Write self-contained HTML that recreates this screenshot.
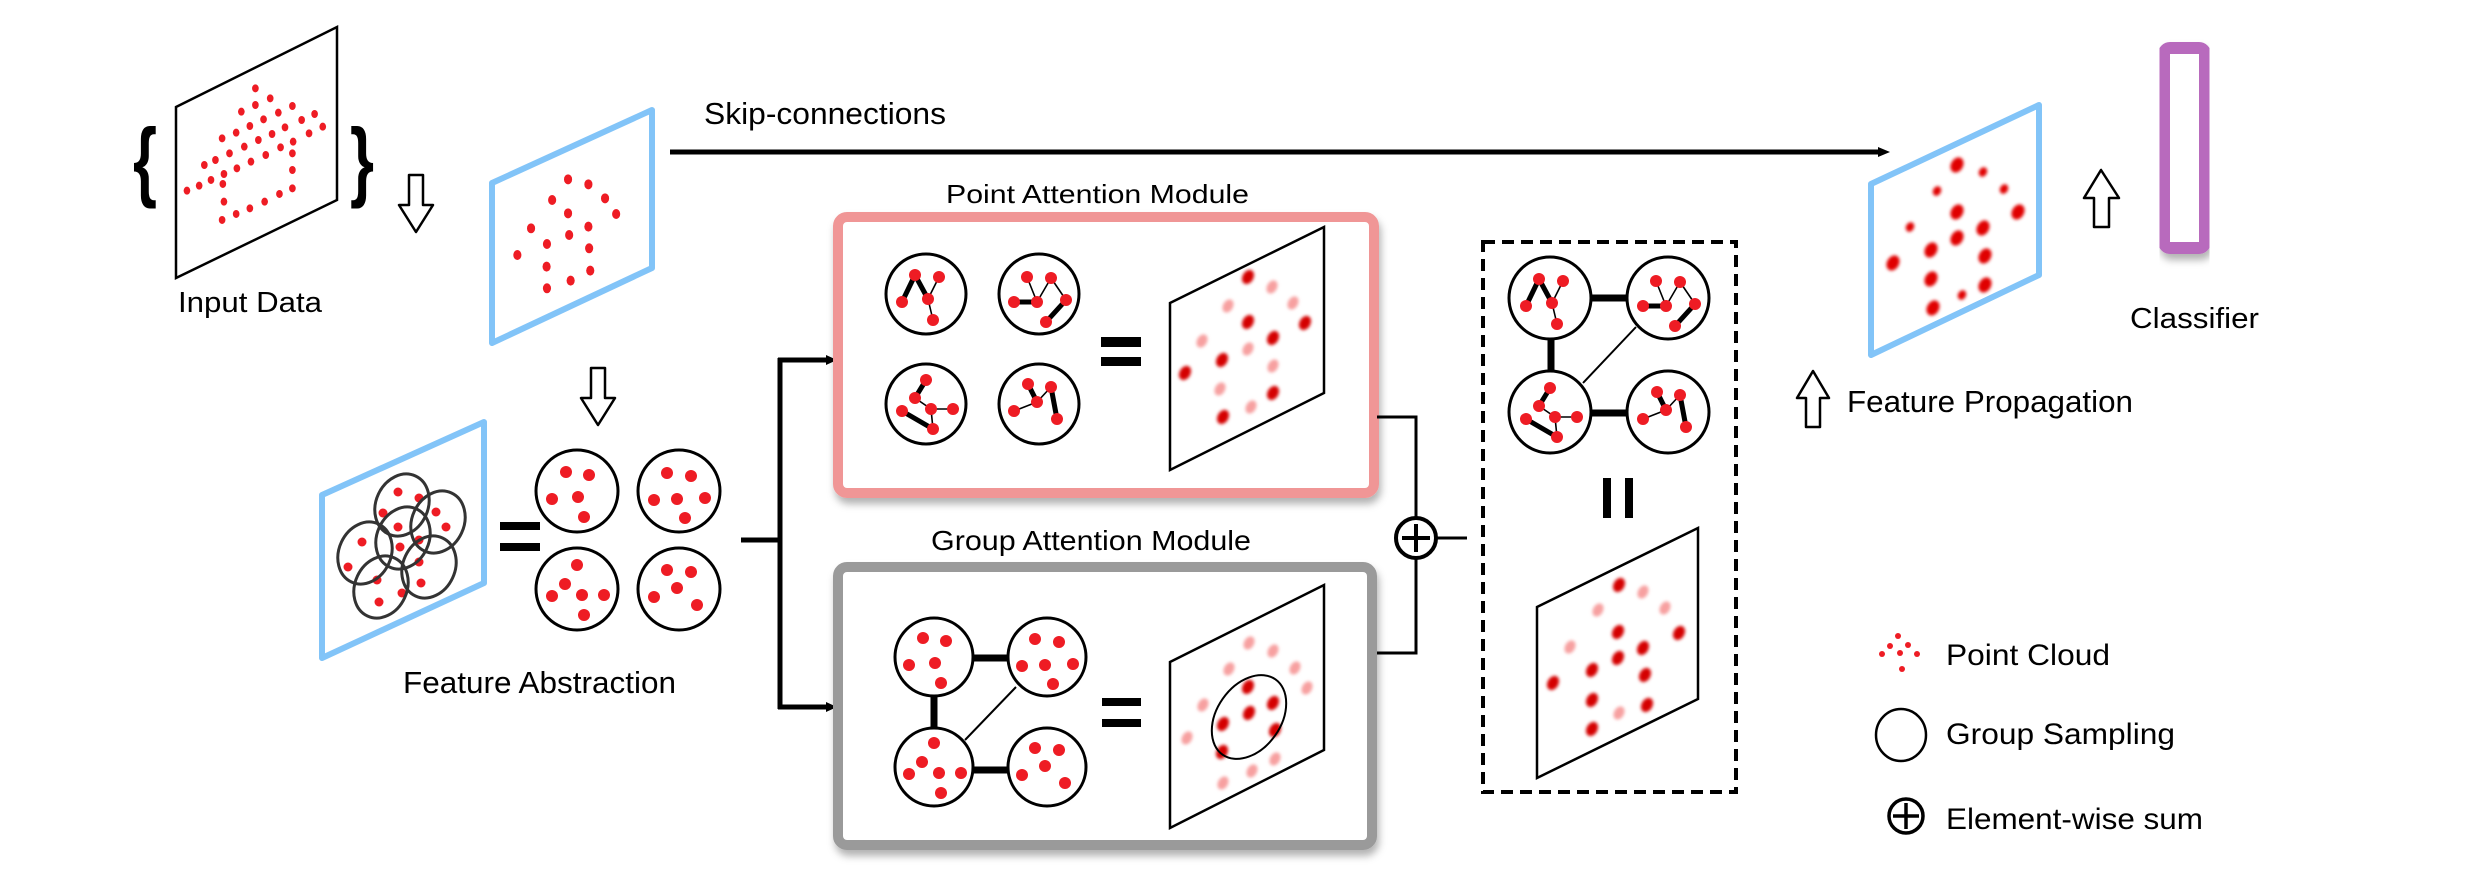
<!DOCTYPE html>
<html><head><meta charset="utf-8"><style>
html,body{margin:0;padding:0;background:#fff;}
svg{display:block;}
text{font-family:"Liberation Sans",Arial,sans-serif;fill:#000;}
</style></head><body>
<svg width="2480" height="880" viewBox="0 0 2480 880" xmlns="http://www.w3.org/2000/svg">
<defs>
<filter id="bl" x="-50%" y="-50%" width="200%" height="200%"><feGaussianBlur stdDeviation="1.6"/></filter>
<filter id="sh" x="-10%" y="-10%" width="120%" height="130%"><feDropShadow dx="2" dy="6" stdDeviation="4" flood-color="#000" flood-opacity="0.3"/></filter>
<g id="P1"><g stroke="#000"><line x1="-11" y1="-19" x2="-24" y2="8" stroke-width="5"/><line x1="-11" y1="-19" x2="2" y2="5" stroke-width="5"/><line x1="13" y1="-17" x2="2" y2="5" stroke-width="1.6"/><line x1="2" y1="5" x2="7" y2="26" stroke-width="1.6"/></g>
<g fill="#ee1c24"><circle cx="-11" cy="-19" r="6"/><circle cx="13" cy="-17" r="6"/><circle cx="-24" cy="8" r="6"/><circle cx="2" cy="5" r="6"/><circle cx="7" cy="26" r="6"/></g></g>
<g id="P2"><g stroke="#000"><line x1="-12" y1="-17" x2="-2" y2="8" stroke-width="1.6"/><line x1="-2" y1="8" x2="12" y2="-16" stroke-width="1.6"/><line x1="12" y1="-16" x2="27" y2="6" stroke-width="1.6"/><line x1="-25" y1="8" x2="-2" y2="8" stroke-width="5"/><line x1="27" y1="6" x2="7" y2="28" stroke-width="5"/></g>
<g fill="#ee1c24"><circle cx="-12" cy="-17" r="6"/><circle cx="12" cy="-16" r="6"/><circle cx="-25" cy="8" r="6"/><circle cx="-2" cy="8" r="6"/><circle cx="27" cy="6" r="6"/><circle cx="7" cy="28" r="6"/></g></g>
<g id="P3"><g stroke="#000"><line x1="0" y1="-24" x2="-11" y2="-6" stroke-width="5"/><line x1="-11" y1="-6" x2="5" y2="5" stroke-width="1.6"/><line x1="5" y1="5" x2="27" y2="5" stroke-width="1.6"/><line x1="5" y1="5" x2="7" y2="25" stroke-width="1.6"/><line x1="-24" y1="7" x2="7" y2="25" stroke-width="5"/></g>
<g fill="#ee1c24"><circle cx="0" cy="-24" r="6"/><circle cx="-11" cy="-6" r="6"/><circle cx="5" cy="5" r="6"/><circle cx="-24" cy="7" r="6"/><circle cx="27" cy="5" r="6"/><circle cx="7" cy="25" r="6"/></g></g>
<g id="P4"><g stroke="#000"><line x1="-11" y1="-20" x2="-2" y2="-2" stroke-width="5"/><line x1="-2" y1="-2" x2="12" y2="-17" stroke-width="1.6"/><line x1="12" y1="-17" x2="18" y2="15" stroke-width="5"/><line x1="-25" y1="7" x2="-2" y2="-2" stroke-width="1.6"/></g>
<g fill="#ee1c24"><circle cx="-11" cy="-20" r="6"/><circle cx="12" cy="-17" r="6"/><circle cx="-2" cy="-2" r="6"/><circle cx="-25" cy="7" r="6"/><circle cx="18" cy="15" r="6"/></g></g>
<g id="G1" fill="#ee1c24"><circle cx="-11" cy="-19" r="6"/><circle cx="12" cy="-16" r="6"/><circle cx="-25" cy="8" r="6"/><circle cx="1" cy="6" r="6"/><circle cx="7" cy="26" r="6"/></g>
<g id="G2" fill="#ee1c24"><circle cx="-12" cy="-18" r="6"/><circle cx="12" cy="-15" r="6"/><circle cx="-25" cy="9" r="6"/><circle cx="-2" cy="8" r="6"/><circle cx="26" cy="7" r="6"/><circle cx="6" cy="27" r="6"/></g>
<g id="G3" fill="#ee1c24"><circle cx="0" cy="-24" r="6"/><circle cx="-12" cy="-5" r="6"/><circle cx="5" cy="6" r="6"/><circle cx="-25" cy="7" r="6"/><circle cx="27" cy="6" r="6"/><circle cx="7" cy="26" r="6"/></g>
<g id="G4" fill="#ee1c24"><circle cx="-12" cy="-19" r="6"/><circle cx="12" cy="-17" r="6"/><circle cx="-2" cy="-1" r="6"/><circle cx="-25" cy="8" r="6"/><circle cx="18" cy="16" r="6"/></g>
<ellipse id="dk" rx="5.5" ry="7.5" transform="rotate(30)" fill="#d40000"/>
<ellipse id="pl" rx="5" ry="7" transform="rotate(30)" fill="#f7a0a0"/>
</defs>

<!-- Input data -->
<path d="M176,107 L337,27 L337,200 L176,278 Z" fill="#fff" stroke="#000" stroke-width="2.5"/>
<text x="133" y="190" font-size="88" font-weight="bold" textLength="24" lengthAdjust="spacingAndGlyphs">{</text>
<text x="350" y="190" font-size="88" font-weight="bold" textLength="24" lengthAdjust="spacingAndGlyphs">}</text>
<g transform="translate(100,20) scale(0.37,0.3333)" fill="#ee1c24">
<ellipse cx="420" cy="205" rx="9" ry="12"/><ellipse cx="460" cy="235" rx="9" ry="12"/><ellipse cx="382" cy="275" rx="9" ry="12"/><ellipse cx="420" cy="255" rx="9" ry="12"/><ellipse cx="482" cy="278" rx="9" ry="12"/><ellipse cx="520" cy="258" rx="9" ry="12"/><ellipse cx="580" cy="282" rx="9" ry="12"/><ellipse cx="442" cy="298" rx="9" ry="12"/><ellipse cx="405" cy="318" rx="9" ry="12"/><ellipse cx="368" cy="338" rx="9" ry="12"/><ellipse cx="330" cy="355" rx="9" ry="12"/><ellipse cx="545" cy="300" rx="9" ry="12"/><ellipse cx="500" cy="322" rx="9" ry="12"/><ellipse cx="465" cy="342" rx="9" ry="12"/><ellipse cx="428" cy="360" rx="9" ry="12"/><ellipse cx="390" cy="380" rx="9" ry="12"/><ellipse cx="350" cy="400" rx="9" ry="12"/><ellipse cx="312" cy="420" rx="9" ry="12"/><ellipse cx="282" cy="435" rx="9" ry="12"/><ellipse cx="565" cy="340" rx="9" ry="12"/><ellipse cx="602" cy="320" rx="9" ry="12"/><ellipse cx="522" cy="365" rx="9" ry="12"/><ellipse cx="488" cy="382" rx="9" ry="12"/><ellipse cx="448" cy="405" rx="9" ry="12"/><ellipse cx="408" cy="425" rx="9" ry="12"/><ellipse cx="370" cy="445" rx="9" ry="12"/><ellipse cx="335" cy="462" rx="9" ry="12"/><ellipse cx="300" cy="480" rx="9" ry="12"/><ellipse cx="268" cy="497" rx="9" ry="12"/><ellipse cx="235" cy="512" rx="9" ry="12"/><ellipse cx="520" cy="400" rx="9" ry="12"/><ellipse cx="520" cy="450" rx="9" ry="12"/><ellipse cx="332" cy="492" rx="9" ry="12"/><ellipse cx="520" cy="505" rx="9" ry="12"/><ellipse cx="485" cy="522" rx="9" ry="12"/><ellipse cx="445" cy="545" rx="9" ry="12"/><ellipse cx="405" cy="565" rx="9" ry="12"/><ellipse cx="368" cy="582" rx="9" ry="12"/><ellipse cx="330" cy="600" rx="9" ry="12"/><ellipse cx="335" cy="545" rx="9" ry="12"/>
</g>
<text x="178" y="312" font-size="29" textLength="144" lengthAdjust="spacingAndGlyphs">Input Data</text>
<path d="M409,175 H423 V205 H433 L416,232 L399,205 H409 Z" fill="#fff" stroke="#000" stroke-width="2.5" stroke-linejoin="round"/>

<!-- Blue plane 1 -->
<path d="M492,183 L652,110 L652,268 L492,343 Z" fill="#fff" stroke="#82c4f8" stroke-width="6" stroke-linejoin="round"/>
<g transform="translate(100,20) scale(0.37,0.3333)" fill="#ee1c24">
<ellipse cx="1265" cy="478" rx="11" ry="15"/><ellipse cx="1320" cy="493" rx="11" ry="15"/><ellipse cx="1222" cy="540" rx="11" ry="15"/><ellipse cx="1365" cy="535" rx="11" ry="15"/><ellipse cx="1265" cy="580" rx="11" ry="15"/><ellipse cx="1395" cy="582" rx="11" ry="15"/><ellipse cx="1165" cy="625" rx="11" ry="15"/><ellipse cx="1268" cy="645" rx="11" ry="15"/><ellipse cx="1320" cy="620" rx="11" ry="15"/><ellipse cx="1208" cy="672" rx="11" ry="15"/><ellipse cx="1322" cy="685" rx="11" ry="15"/><ellipse cx="1128" cy="705" rx="11" ry="15"/><ellipse cx="1207" cy="740" rx="11" ry="15"/><ellipse cx="1325" cy="752" rx="11" ry="15"/><ellipse cx="1272" cy="782" rx="11" ry="15"/><ellipse cx="1208" cy="805" rx="11" ry="15"/>
</g>

<!-- Skip connection -->
<text x="704" y="124" font-size="31" textLength="242" lengthAdjust="spacingAndGlyphs">Skip-connections</text>
<line x1="670" y1="152" x2="1880" y2="152" stroke="#000" stroke-width="5"/>
<path d="M1878,147 L1890,152 L1878,157 Z" fill="#000"/>

<!-- Down arrow 2 -->
<path d="M591,368 H605 V398 H615 L598,425 L581,398 H591 Z" fill="#fff" stroke="#000" stroke-width="2.5" stroke-linejoin="round"/>

<!-- Feature abstraction plane -->
<path d="M322,495 L484,422 L484,583 L322,658 Z" fill="#fff" stroke="#82c4f8" stroke-width="6" stroke-linejoin="round"/>
<g fill="#ee1c24">
<circle cx="398" cy="492" r="4.5"/><circle cx="419" cy="498" r="4.5"/><circle cx="383" cy="513" r="4.5"/><circle cx="436" cy="512" r="4.5"/><circle cx="398" cy="527" r="4.5"/><circle cx="446" cy="527" r="4.5"/><circle cx="362" cy="542" r="4.5"/><circle cx="400" cy="547" r="4.5"/><circle cx="419" cy="540" r="4.5"/><circle cx="419" cy="562" r="4.5"/><circle cx="348" cy="567" r="4.5"/><circle cx="377" cy="580" r="4.5"/><circle cx="421" cy="583" r="4.5"/><circle cx="379" cy="602" r="4.5"/><circle cx="402" cy="593" r="4.5"/>
</g>
<g fill="none" stroke="#333" stroke-width="3">
<ellipse cx="402" cy="505" rx="26" ry="32" transform="rotate(25 402 505)"/>
<ellipse cx="438" cy="522" rx="26" ry="32" transform="rotate(25 438 522)"/>
<ellipse cx="403" cy="538" rx="26" ry="32" transform="rotate(25 403 538)"/>
<ellipse cx="365" cy="553" rx="26" ry="32" transform="rotate(25 365 553)"/>
<ellipse cx="429" cy="567" rx="26" ry="32" transform="rotate(25 429 567)"/>
<ellipse cx="381" cy="587" rx="26" ry="32" transform="rotate(25 381 587)"/>
</g>
<rect x="500" y="522" width="40" height="8" fill="#000"/><rect x="500" y="543" width="40" height="8" fill="#000"/>
<g fill="#fff" stroke="#000" stroke-width="3">
<circle cx="577" cy="491" r="41"/><circle cx="679" cy="491" r="41"/><circle cx="577" cy="589" r="41"/><circle cx="679" cy="589" r="41"/>
</g>
<use href="#G1" x="577" y="491"/><use href="#G2" x="679" y="491"/><use href="#G3" x="577" y="589"/><use href="#G4" x="679" y="589"/>
<text x="403" y="693" font-size="31" textLength="273" lengthAdjust="spacingAndGlyphs">Feature Abstraction</text>

<!-- Branch -->
<g stroke="#000" stroke-width="5" fill="none">
<line x1="741" y1="540" x2="780" y2="540"/>
<line x1="780" y1="358" x2="780" y2="709"/>
<line x1="778" y1="360" x2="828" y2="360"/>
<line x1="778" y1="707" x2="828" y2="707"/>
</g>
<path d="M826,355 L837,360 L826,365 Z" fill="#000"/>
<path d="M826,702 L837,707 L826,712 Z" fill="#000"/>

<!-- Point attention module -->
<text x="946" y="203" font-size="26" textLength="303" lengthAdjust="spacingAndGlyphs">Point Attention Module</text>
<rect x="838" y="217" width="536" height="276" rx="9" fill="#fff" stroke="#f09696" stroke-width="10" filter="url(#sh)"/>
<g fill="#fff" stroke="#000" stroke-width="3">
<circle cx="926" cy="294" r="40"/><circle cx="1039" cy="294" r="40"/><circle cx="926" cy="404" r="40"/><circle cx="1039" cy="404" r="40"/>
</g>
<use href="#P1" x="926" y="294"/><use href="#P2" x="1039" y="294"/><use href="#P3" x="926" y="404"/><use href="#P4" x="1039" y="404"/>
<rect x="1101" y="337" width="40" height="10" fill="#000"/><rect x="1101" y="357" width="40" height="9" fill="#000"/>
<path d="M1170,303 L1324,227 L1324,393 L1170,470 Z" fill="#fff" stroke="#000" stroke-width="2.5"/>
<g filter="url(#bl)">
<use href="#dk" x="1248" y="277"/><use href="#dk" x="1248" y="322"/><use href="#dk" x="1273" y="338"/><use href="#dk" x="1305" y="323"/><use href="#dk" x="1222" y="360"/><use href="#dk" x="1185" y="373"/><use href="#dk" x="1273" y="393"/><use href="#dk" x="1223" y="417"/>
<use href="#pl" x="1272" y="287"/><use href="#pl" x="1228" y="306"/><use href="#pl" x="1293" y="303"/><use href="#pl" x="1202" y="341"/><use href="#pl" x="1248" y="349"/><use href="#pl" x="1273" y="366"/><use href="#pl" x="1220" y="389"/><use href="#pl" x="1251" y="407"/>
</g>

<!-- Group attention module -->
<text x="931" y="550" font-size="28" textLength="320" lengthAdjust="spacingAndGlyphs">Group Attention Module</text>
<rect x="838" y="567" width="534" height="278" rx="9" fill="#fff" stroke="#9a9a9a" stroke-width="10" filter="url(#sh)"/>
<g stroke="#000">
<line x1="970" y1="658" x2="1010" y2="658" stroke-width="7"/>
<line x1="970" y1="770" x2="1010" y2="770" stroke-width="7"/>
<line x1="934" y1="695" x2="934" y2="730" stroke-width="7"/>
<line x1="965" y1="740" x2="1016" y2="687" stroke-width="2"/>
</g>
<g fill="#fff" stroke="#000" stroke-width="3">
<circle cx="934" cy="657" r="39"/><circle cx="1047" cy="657" r="39"/><circle cx="934" cy="767" r="39"/><circle cx="1047" cy="767" r="39"/>
</g>
<use href="#G1" x="934" y="657"/><use href="#G2" x="1047" y="657"/><use href="#G3" x="934" y="767"/><use href="#G4" x="1047" y="767"/>
<rect x="1102" y="698" width="39" height="8" fill="#000"/><rect x="1102" y="719" width="39" height="8" fill="#000"/>
<path d="M1170,662 L1324,585 L1324,750 L1170,828 Z" fill="#fff" stroke="#000" stroke-width="2.5"/>
<g filter="url(#bl)">
<use href="#dk" x="1248" y="687"/><use href="#dk" x="1273" y="703"/><use href="#dk" x="1249" y="713"/><use href="#dk" x="1223" y="724"/><use href="#dk" x="1275" y="730"/><use href="#dk" x="1222" y="752"/>
<use href="#pl" x="1249" y="643"/><use href="#pl" x="1273" y="651"/><use href="#pl" x="1229" y="669"/><use href="#pl" x="1295" y="668"/><use href="#pl" x="1307" y="688"/><use href="#pl" x="1203" y="705"/><use href="#pl" x="1187" y="738"/><use href="#pl" x="1275" y="759"/><use href="#pl" x="1252" y="771"/><use href="#pl" x="1223" y="783"/>
</g>
<ellipse cx="1249" cy="717" rx="32" ry="46" transform="rotate(35 1249 717)" fill="none" stroke="#000" stroke-width="2"/>

<!-- Sum -->
<g stroke="#000" stroke-width="3" fill="none">
<polyline points="1377,417 1416,417 1416,517"/>
<polyline points="1377,653 1416,653 1416,559"/>
<line x1="1437" y1="538" x2="1467" y2="538"/>
<circle cx="1416" cy="538" r="20" stroke-width="4"/>
<line x1="1402" y1="538" x2="1430" y2="538" stroke-width="4"/>
<line x1="1416" y1="524" x2="1416" y2="552" stroke-width="4"/>
</g>

<!-- Dashed box -->
<rect x="1483" y="242" width="253" height="550" fill="none" stroke="#000" stroke-width="4" stroke-dasharray="12,7"/>
<g stroke="#000">
<line x1="1590" y1="298" x2="1630" y2="298" stroke-width="7"/>
<line x1="1590" y1="413" x2="1630" y2="413" stroke-width="7"/>
<line x1="1551" y1="335" x2="1551" y2="375" stroke-width="7"/>
<line x1="1583" y1="383" x2="1636" y2="327" stroke-width="2"/>
</g>
<g fill="#fff" stroke="#000" stroke-width="3">
<circle cx="1550" cy="298" r="41"/><circle cx="1668" cy="298" r="41"/><circle cx="1550" cy="412" r="41"/><circle cx="1668" cy="412" r="41"/>
</g>
<use href="#P1" x="1550" y="298"/><use href="#P2" x="1668" y="298"/><use href="#P3" x="1550" y="412"/><use href="#P4" x="1668" y="412"/>
<rect x="1603" y="478" width="8" height="40" fill="#000"/><rect x="1625" y="478" width="8" height="40" fill="#000"/>
<path d="M1537,607 L1698,528 L1698,699 L1537,778 Z" fill="#fff" stroke="#000" stroke-width="2.5"/>
<g filter="url(#bl)">
<use href="#dk" x="1619" y="585"/><use href="#dk" x="1618" y="632"/><use href="#dk" x="1643" y="648"/><use href="#dk" x="1618" y="658"/><use href="#dk" x="1679" y="633"/><use href="#dk" x="1592" y="670"/><use href="#dk" x="1553" y="683"/><use href="#dk" x="1645" y="675"/><use href="#dk" x="1592" y="700"/><use href="#dk" x="1647" y="705"/><use href="#dk" x="1592" y="729"/>
<use href="#pl" x="1643" y="592"/><use href="#pl" x="1598" y="610"/><use href="#pl" x="1665" y="608"/><use href="#pl" x="1570" y="647"/><use href="#pl" x="1619" y="713"/>
</g>

<!-- Output plane -->
<path d="M1871,184 L2039,105 L2039,275 L1871,355 Z" fill="#fff" stroke="#82c4f8" stroke-width="6" stroke-linejoin="round"/>
<g filter="url(#bl)" fill="#e00000">
<ellipse cx="1957" cy="165" rx="6" ry="8" transform="rotate(30 1957 165)"/>
<ellipse cx="1983" cy="172" rx="4" ry="5" transform="rotate(30 1983 172)"/>
<ellipse cx="1937" cy="191" rx="4" ry="5" transform="rotate(30 1937 191)"/>
<ellipse cx="2004" cy="189" rx="4" ry="5" transform="rotate(30 2004 189)"/>
<ellipse cx="1957" cy="212" rx="6" ry="8" transform="rotate(30 1957 212)"/>
<ellipse cx="2018" cy="212" rx="6" ry="8" transform="rotate(30 2018 212)"/>
<ellipse cx="1910" cy="227" rx="4" ry="5" transform="rotate(30 1910 227)"/>
<ellipse cx="1983" cy="228" rx="6" ry="8" transform="rotate(30 1983 228)"/>
<ellipse cx="1957" cy="238" rx="6" ry="8" transform="rotate(30 1957 238)"/>
<ellipse cx="1931" cy="250" rx="6" ry="8" transform="rotate(30 1931 250)"/>
<ellipse cx="1985" cy="256" rx="6" ry="8" transform="rotate(30 1985 256)"/>
<ellipse cx="1893" cy="263" rx="6" ry="8" transform="rotate(30 1893 263)"/>
<ellipse cx="1931" cy="279" rx="6" ry="8" transform="rotate(30 1931 279)"/>
<ellipse cx="1985" cy="285" rx="6" ry="8" transform="rotate(30 1985 285)"/>
<ellipse cx="1962" cy="295" rx="4" ry="5" transform="rotate(30 1962 295)"/>
<ellipse cx="1933" cy="308" rx="6" ry="8" transform="rotate(30 1933 308)"/>
</g>
<path d="M2094,227 H2109 V198 H2119 L2101,170 L2084,198 H2094 Z" fill="#fff" stroke="#000" stroke-width="2.5" stroke-linejoin="round"/>
<rect x="2164" y="48" width="41" height="200" rx="6" fill="#fff" stroke="#b86bbd" stroke-width="12" filter="url(#sh)"/>
<text x="2130" y="328" font-size="29" textLength="129" lengthAdjust="spacingAndGlyphs">Classifier</text>

<path d="M1806,427 H1820 V398 H1829 L1813,371 L1797,398 H1806 Z" fill="#fff" stroke="#000" stroke-width="2.5" stroke-linejoin="round"/>
<text x="1847" y="412" font-size="31" textLength="286" lengthAdjust="spacingAndGlyphs">Feature Propagation</text>

<!-- Legend -->
<g fill="#ee1c24">
<circle cx="1898" cy="636" r="3"/><circle cx="1890" cy="646" r="3"/><circle cx="1908" cy="645" r="3"/><circle cx="1882" cy="654" r="3"/><circle cx="1900" cy="653" r="3"/><circle cx="1917" cy="654" r="3"/><circle cx="1902" cy="669" r="3"/>
</g>
<text x="1946" y="665" font-size="30" textLength="164" lengthAdjust="spacingAndGlyphs">Point Cloud</text>
<ellipse cx="1901" cy="735" rx="25" ry="26" fill="none" stroke="#000" stroke-width="2.5"/>
<text x="1946" y="744" font-size="30" textLength="229" lengthAdjust="spacingAndGlyphs">Group Sampling</text>
<g stroke="#000" stroke-width="3.5" fill="none">
<circle cx="1906" cy="816" r="17"/>
<line x1="1893" y1="816" x2="1919" y2="816"/>
<line x1="1906" y1="803" x2="1906" y2="829"/>
</g>
<text x="1946" y="829" font-size="30" textLength="257" lengthAdjust="spacingAndGlyphs">Element-wise sum</text>
</svg>
</body></html>
